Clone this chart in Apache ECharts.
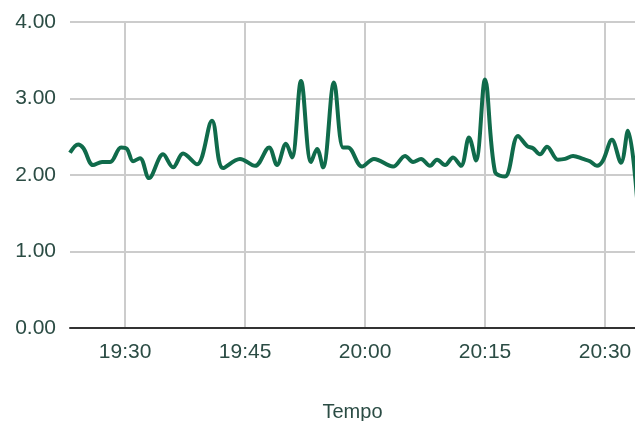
<!DOCTYPE html>
<html><head><meta charset="utf-8">
<script src="https://cdn.jsdelivr.net/npm/echarts@6/dist/echarts.min.js"></script>
<style>html,body{margin:0;padding:0;background:#fff}#c{width:635px;height:421px}</style>
</head><body><div id="c"></div>
<script>
const times = ["19:23:07","19:24:08","19:24:48","19:26:00","19:27:08","19:28:08","19:29:30","19:30:15","19:31:00","19:31:52","19:33:00","19:34:45","19:36:00","19:37:15","19:39:00","19:40:52","19:42:15","19:44:22","19:46:15","19:48:00","19:49:00","19:50:07","19:50:52","19:52:00","19:53:15","19:54:00","19:54:45","19:56:07","19:57:15","19:57:52","19:59:37","20:01:07","20:03:30","20:05:00","20:06:00","20:07:00","20:08:07","20:09:00","20:10:00","20:11:00","20:12:00","20:13:00","20:13:52","20:15:00","20:16:15","20:17:30","20:19:07","20:20:15","20:21:00","20:21:52","20:22:45","20:24:07","20:25:00","20:26:00","20:27:15","20:28:07","20:29:00","20:29:45","20:30:52","20:32:00","20:32:52","20:34:00"];
const values = [2.29,2.40,2.35,2.13,2.17,2.17,2.36,2.34,2.18,2.22,1.96,2.27,2.10,2.28,2.14,2.71,2.09,2.21,2.12,2.36,2.13,2.41,2.23,3.23,2.17,2.34,2.10,3.21,2.36,2.36,2.11,2.21,2.11,2.25,2.17,2.21,2.12,2.20,2.13,2.23,2.12,2.49,2.19,3.25,2.04,1.98,2.51,2.38,2.35,2.27,2.37,2.20,2.21,2.25,2.21,2.18,2.12,2.19,2.46,2.16,2.58,1.70];
const yTicks = [0,1,2,3,4];
const xTickLabels = ["19:30","19:45","20:00","20:15","20:30"];
const xAxisStart = "19:23:07", xAxisEnd = "20:33:45";
// minutes since midnight
const toMin = t => { const p = t.split(':').map(Number); return p[0]*60 + p[1] + (p[2]||0)/60; };
const data = times.map((t,i)=>[toMin(t), values[i]]);
const xTickVals = xTickLabels.map(toMin);
const fmt = m => { const r = Math.round(m); return String(Math.floor(r/60)).padStart(2,'0')+':'+String(r%60).padStart(2,'0'); };
const textColor = '#2b4c44';
const font = 'Liberation Sans, Arial, sans-serif';
const chart = echarts.init(document.getElementById('c'));
chart.setOption({
  animation:false,
  grid:{left:70,right:0,top:22,bottom:93,containLabel:false,outerBoundsMode:'none'},
  xAxis:{type:'value',min:toMin(xAxisStart),max:toMin(xAxisEnd),
    name:'Tempo',nameLocation:'middle',nameGap:74,
    nameTextStyle:{color:textColor,fontSize:20,fontFamily:font},
    axisLine:{show:true,onZero:false,lineStyle:{color:'#333',width:2}},
    axisTick:{show:false,customValues:xTickVals},
    splitLine:{show:true,lineStyle:{color:'#cccccc',width:2}},
    axisLabel:{color:textColor,fontSize:21,margin:14,fontFamily:font,
      customValues:xTickVals,formatter:v=>fmt(v)}
  },
  yAxis:{type:'value',min:yTicks[0],max:yTicks[yTicks.length-1],interval:1,
    axisLine:{show:false},axisTick:{show:false},
    splitLine:{lineStyle:{color:'#cccccc',width:2}},
    axisLabel:{color:textColor,fontSize:21,margin:14,fontFamily:font,formatter:v=>v.toFixed(2)}
  },
  series:[{type:'line',data:data,smooth:0.35,showSymbol:false,clip:true,
    lineStyle:{color:'#106b4b',width:4}}]
});
</script></body></html>
